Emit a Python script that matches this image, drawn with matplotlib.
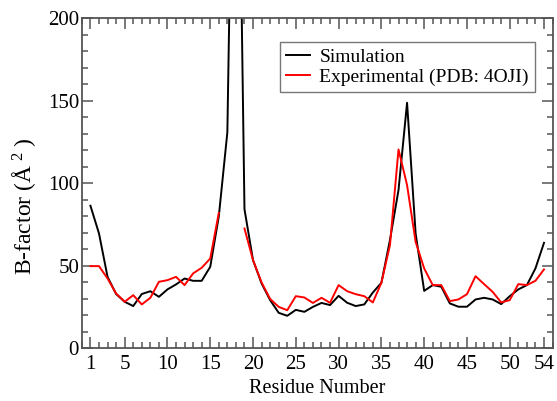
import numpy as np
import matplotlib
matplotlib.use("Agg")
import matplotlib.pyplot as plt
from matplotlib.ticker import MultipleLocator, FixedLocator

plt.rcParams['font.family'] = ['Liberation Serif', 'DejaVu Serif']
plt.rcParams['mathtext.fontset'] = 'custom'
plt.rcParams['mathtext.rm'] = 'Liberation Serif'
plt.rcParams['mathtext.it'] = 'Liberation Serif:italic'

residues = np.arange(1, 55)
simulation = [86.5, 69.7, 43.4, 33.0, 28.3, 25.7, 33.0, 34.7, 31.3, 35.8,
              38.8, 42.4, 41.0, 41.0, 49.5, 80.0, 131.0, 450.0, 84.4, 53.5,
              39.4, 29.3, 21.6, 19.8, 23.4, 22.2, 25.2, 27.6, 26.3, 31.9,
              27.7, 25.7, 26.7, 33.9, 39.8, 65.7, 96.0, 148.9, 69.7, 34.9,
              38.4, 37.4, 27.3, 25.3, 25.3, 29.7, 30.7, 29.7, 26.9, 31.7,
              35.8, 38.4, 48.5, 64.0]
experimental = [49.9, 49.9, 42.4, 33.3, 28.3, 32.3, 26.7, 30.7, 40.4, 41.4,
                43.4, 38.4, 45.5, 48.9, 54.5, 82.2, np.nan, np.nan, 72.7, 53.5,
                40.0, 30.0, 25.2, 23.2, 31.7, 30.9, 27.6, 30.7, 27.7, 38.4,
                34.7, 32.9, 31.7, 27.9, 39.8, 62.6, 120.6, 99.0, 64.6, 48.5,
                38.4, 38.4, 28.7, 29.7, 32.9, 43.8, 39.0, 34.3, 27.9, 29.3,
                39.0, 38.4, 41.0, 47.9]
x_ticks = [1, 5, 10, 15, 20, 25, 30, 35, 40, 45, 50, 54]

fig = plt.figure(figsize=(5.57, 4.01), dpi=100)
ax = fig.add_axes([0.147, 0.131, 0.845, 0.823])

ax.plot(residues, simulation, color='black', lw=1.4, label='Simulation')
ax.plot(residues, experimental, color='#ff0000', lw=1.4, label='Experimental (PDB: 4OJI)')

ax.set_xlim(0, 55)
ax.set_ylim(0, 200)
ax.xaxis.set_major_locator(FixedLocator(x_ticks))
ax.xaxis.set_minor_locator(MultipleLocator(1))
ax.yaxis.set_major_locator(MultipleLocator(50))
ax.yaxis.set_minor_locator(MultipleLocator(10))

spine_col = '#555555'
for s in ax.spines.values():
    s.set_color(spine_col)
    s.set_linewidth(1.3)
ax.tick_params(which='both', direction='in', top=True, right=True,
               color=spine_col, width=1.1, labelsize=15, labelcolor='black')
ax.tick_params(which='major', length=8)
ax.tick_params(axis='x', which='major', pad=5)
ax.tick_params(axis='y', which='major', pad=2)
ax.tick_params(which='minor', length=4.5)

ax.set_xlabel('Residue Number', fontsize=14.5, labelpad=3)
ax.set_ylabel('B-factor (Å\u2009$^{2}$\u2009)', fontsize=17)
ax.yaxis.set_label_coords(-0.094, 0.43)

leg = ax.legend(loc='upper right', bbox_to_anchor=(0.962, 0.928), borderaxespad=0,
                fontsize=14, frameon=True, fancybox=False, handlelength=1.2,
                handletextpad=0.5, labelspacing=0.15, borderpad=0.3)
leg.get_frame().set_edgecolor(spine_col)
leg.get_frame().set_linewidth(1.0)

fig.savefig('out.png', dpi=100)
